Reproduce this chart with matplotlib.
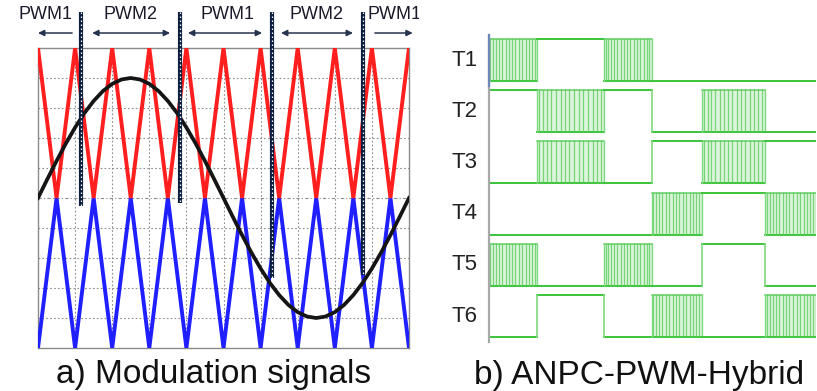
import matplotlib
matplotlib.use("Agg")
import matplotlib.pyplot as plt
from matplotlib.patches import Rectangle
from matplotlib import font_manager

plt.rcParams['font.family'] = ['Liberation Sans', 'DejaVu Sans']
_installed = {f.name for f in font_manager.fontManager.ttflist}
NARROW = 'Liberation Sans Narrow' if 'Liberation Sans Narrow' in _installed else 'Liberation Sans'

# ---------------- data: left panel ----------------
carrier_t = [i * 0.5 for i in range(21)]
red_carrier = [1, 0] * 10 + [1]
blue_carrier = [-1, 0] * 10 + [-1]

sine_t = [i * 0.25 for i in range(41)]
sine_half = [0.0, 0.125, 0.247, 0.363, 0.470, 0.566, 0.647, 0.713, 0.761, 0.790,
             0.800, 0.790, 0.761, 0.713, 0.647, 0.566, 0.470, 0.363, 0.247, 0.125]
sine_v = sine_half + [-v for v in sine_half] + [0.0]

mode_bounds_t = [1.16, 3.83, 6.31, 8.76]
mode_bounds_bottom = [-0.05, -0.03, -0.53, -0.51]
mode_labels = ["PWM1", "PWM2", "PWM1", "PWM2", "PWM1"]
mode_label_t = [0.19, 2.48, 5.12, 7.52, 9.6]
mode_arrows = [(0.92, 0.0, '-|>'), (1.46, 3.56, '<|-|>'), (4.04, 6.04, '<|-|>'),
               (6.55, 8.49, '<|-|>'), (9.08, 10.1, '-|>')]

# ---------------- data: right panel ----------------
gate_names = ["T1", "T2", "T3", "T4", "T5", "T6"]
seg_bounds = [0.0, 0.147, 0.352, 0.498, 0.651, 0.844, 1.0]
gate_states = [
    "PHPLLL",
    "HPHLPL",
    "LPLHPH",
    "LLLPHP",
    "PLPLHL",
    "LHLPLP",
]
pwm_edges = [0.03, 0.09, 0.15, 0.21, 0.28, 0.35, 0.42, 0.48, 0.55, 0.62, 0.69,
             0.76, 0.83, 0.89, 0.95]

# ---------------- figure ----------------
W, H = 817, 391
fig = plt.figure(figsize=(W / 100, H / 100), dpi=100)

# left axes
ax1 = fig.add_axes([38 / W, (H - 348) / H, 371 / W, 300 / H])
ax1.set_xlim(0, 10)
ax1.set_ylim(-1, 1)
ax1.set_xticks([])
ax1.set_yticks([])
for s in ax1.spines.values():
    s.set_color('#8a8a8a')
    s.set_linewidth(1.0)

grid_kw = dict(color='#8c8c8c', lw=0.8, ls=(0, (1.5, 2)), zorder=1)
for k in range(1, 10):
    ax1.axvline(k, **grid_kw)
for k in range(-4, 5):
    if k != 0:
        ax1.axhline(k * 0.2, **grid_kw)
ax1.axhline(0, color='#8c8c8c', lw=0.8, ls=(0, (3, 2, 1, 2)), zorder=1)

ax1.plot(carrier_t, blue_carrier, color='#1f1fff', lw=2.8, zorder=3, solid_joinstyle='miter')
ax1.plot(carrier_t, red_carrier, color='#ff1f1f', lw=2.8, zorder=3, solid_joinstyle='miter')
ax1.plot(sine_t, sine_v, color='#151515', lw=2.7, zorder=4)

for t, b in zip(mode_bounds_t, mode_bounds_bottom):
    ax1.plot([t, t], [1.24, b], color='#0d1f40', lw=3.0, clip_on=False, zorder=5,
             solid_capstyle='butt')
    ax1.plot([t, t], [1.24, b], color='white', lw=0.9, ls=(0, (1.2, 2.0)),
             clip_on=False, zorder=6)

clip_rect = Rectangle((0, 0), 419 / W, 1, transform=fig.transFigure)
for lab, t in zip(mode_labels, mode_label_t):
    tx = ax1.text(t, 1.225, lab, ha='center', va='center', fontsize=15 if NARROW != 'Liberation Sans' else 13,
                  family=[NARROW, 'DejaVu Sans'], color='#1a1a2a', clip_on=True)
    tx.set_clip_path(clip_rect)
for a, b, style in mode_arrows:
    ax1.annotate('', xy=(b, 1.10), xytext=(a, 1.10), xycoords='data',
                 arrowprops=dict(arrowstyle=style, color='#26344f', lw=1.1,
                                 mutation_scale=9, shrinkA=0, shrinkB=0),
                 annotation_clip=False)

# right axes
pitch = 51.2
amp = 42 / pitch
ax2 = fig.add_axes([489 / W, (H - 342) / H, 327 / W, 307 / H])
ax2.set_xlim(0, 1)
ax2.set_ylim(-5 / pitch, (337 - 35) / pitch)
ax2.set_xticks([])
ax2.set_yticks([])
for side in ['top', 'right', 'bottom']:
    ax2.spines[side].set_visible(False)
ax2.spines['left'].set_color('#a8a8a8')
ax2.spines['left'].set_linewidth(1.6)
ax2.plot([0, 0], [5 - 0.1, (337 - 35) / pitch], color='#6d88b8', lw=1.6,
         clip_on=False, zorder=6)

green = '#3cc43c'
light = '#7fd97f'
for i, (name, states) in enumerate(zip(gate_names, gate_states)):
    base = 5 - i
    lo, hi = base, base + amp
    ax2.text(-0.036, base + amp / 2, name, ha='right', va='center', fontsize=16,
             color='#222222', clip_on=False)
    prev_level = None
    for j, st in enumerate(states):
        x0, x1 = seg_bounds[j], seg_bounds[j + 1]
        if st == 'H':
            ax2.plot([x0, x1], [hi, hi], color=green, lw=1.4)
            level = 'H'
        elif st == 'L':
            ax2.plot([x0, x1], [lo, lo], color=green, lw=1.4)
            level = 'L'
        else:
            ax2.fill_between([x0, x1], lo, hi, color=light, alpha=0.28, lw=0)
            ax2.plot([x0, x1], [hi, hi], color=green, lw=1.1, alpha=0.8)
            ax2.plot([x0, x1], [lo, lo], color=green, lw=1.4)
            w = x1 - x0
            for e in pwm_edges:
                ax2.plot([x0 + e * w] * 2, [lo, hi], color='#55cc55', lw=0.9, alpha=0.75)
            ax2.plot([x0, x0], [lo, hi], color=light, lw=1.0)
            ax2.plot([x1, x1], [lo, hi], color=light, lw=1.0)
            level = 'P'
        if prev_level in ('H', 'L') and level in ('H', 'L') and prev_level != level:
            ax2.plot([x0, x0], [lo, hi], color=light, lw=1.2)
        prev_level = level

fig.text(213.5 / W, 1 - 383 / H, 'a) Modulation signals', ha='center', va='baseline',
         fontsize=24, color='#111111')
fig.text(639 / W, 1 - 384 / H, 'b) ANPC-PWM-Hybrid', ha='center', va='baseline',
         fontsize=24, color='#111111')

fig.savefig('out.png', dpi=100)
